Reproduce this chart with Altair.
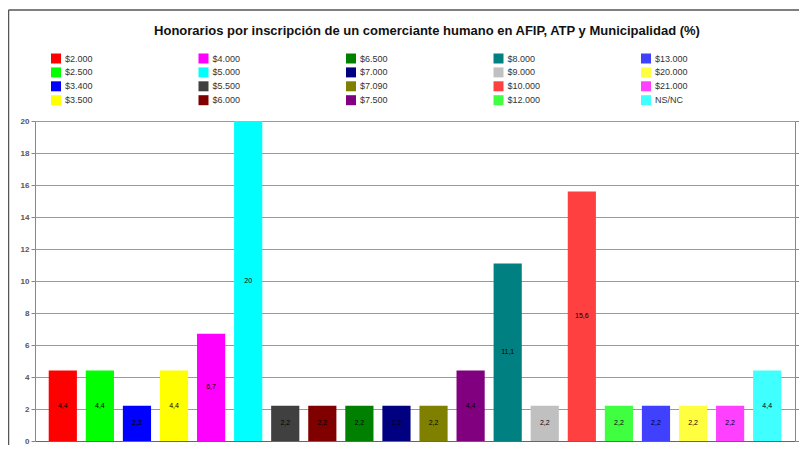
import altair as alt
import pandas as pd

categories = ["$2.000", "$2.500", "$3.400", "$3.500", "$4.000", "$5.000", "$5.500",
              "$6.000", "$6.500", "$7.000", "$7.090", "$7.500", "$8.000", "$9.000",
              "$10.000", "$12.000", "$13.000", "$20.000", "$21.000", "NS/NC"]
values = [4.4, 4.4, 2.2, 4.4, 6.7, 20, 2.2, 2.2, 2.2, 2.2, 2.2, 4.4, 11.1, 2.2,
          15.6, 2.2, 2.2, 2.2, 2.2, 4.4]
colors = ["#FF0000", "#00FF00", "#0000FF", "#FFFF00", "#FF00FF", "#00FFFF", "#404040",
          "#800000", "#008000", "#000080", "#808000", "#800080", "#008080", "#C0C0C0",
          "#FF4040", "#40FF40", "#4040FF", "#FFFF40", "#FF40FF", "#40FFFF"]
y_ticks = list(range(0, 21, 2))
title_text = "Honorarios por inscripción de un comerciante humano en AFIP, ATP y Municipalidad (%)"

FONT = "Liberation Sans"

df = pd.DataFrame({
    "cat": categories,
    "val": values,
    "lab": [f"{v:g}".replace(".", ",") for v in values],
})

x_enc = alt.X("cat:N", sort=categories,
              scale=alt.Scale(paddingInner=0.24, paddingOuter=0.37),
              axis=alt.Axis(labels=False, ticks=False, title=None,
                            domainColor="#666", domainWidth=1))

bars = alt.Chart(df).mark_bar().encode(
    x=x_enc,
    y=alt.Y("val:Q", scale=alt.Scale(domain=[0, 20], nice=False),
            axis=alt.Axis(orient="left", values=y_ticks, grid=True, gridColor="#9a9a9a",
                          gridWidth=1, tickColor="#888", tickSize=4, domainColor="#888",
                          labelFontSize=8, labelColor="#555", labelFont=FONT,
                          labelFontWeight="bold", labelPadding=2, title=None)),
    color=alt.Color("cat:N",
                    scale=alt.Scale(domain=categories, range=colors),
                    legend=alt.Legend(title=None, orient="none", legendX=16, legendY=-67.5,
                                      columns=5, gridAlign="all", columnPadding=100.5,
                                      rowPadding=3.9, symbolType="square", symbolSize=100,
                                      symbolStrokeWidth=0, symbolOpacity=1,
                                      labelFontSize=9, labelFont=FONT, labelColor="#333",
                                      labelOffset=4, padding=0)),
)

labels = alt.Chart(df).transform_calculate(mid="datum.val / 2").mark_text(
    fontSize=7, font=FONT, color="#000"
).encode(
    x=x_enc,
    y=alt.Y("mid:Q", scale=alt.Scale(domain=[0, 20], nice=False),
            axis=alt.Axis(orient="right", values=y_ticks, grid=False, tickColor="#888",
                          tickSize=4, domainColor="#888", labelFontSize=8,
                          labelColor="#555", labelFont=FONT, labelFontWeight="bold",
                          labelPadding=2, title=None)),
    text="lab:N",
)

title = alt.Chart(pd.DataFrame({"t": [title_text]})).mark_text(
    fontSize=13, font=FONT, fontWeight="bold", color="#111", align="center", baseline="middle"
).encode(x=alt.value(392), y=alt.value(-90), text="t:N")

frame = alt.Chart(pd.DataFrame({"k": [0]})).mark_rule(color="#555", strokeWidth=1.5).encode(
    x=alt.value(-26.5), x2=alt.value(800), y=alt.value(-111)
)
frame_left = alt.Chart(pd.DataFrame({"k": [0]})).mark_rule(color="#555", strokeWidth=1.5).encode(
    x=alt.value(-26.5), y=alt.value(-111), y2=alt.value(340)
)

chart = alt.layer(bars, labels, title, frame, frame_left).resolve_axis(y="independent").properties(
    width=760, height=320,
    autosize=alt.AutoSizeParams(type="none"),
    padding={"left": 27, "top": 113, "right": 4, "bottom": 4},
).configure_view(stroke=None)

chart.save("out.html", embed_options={"renderer": "svg", "actions": False})
